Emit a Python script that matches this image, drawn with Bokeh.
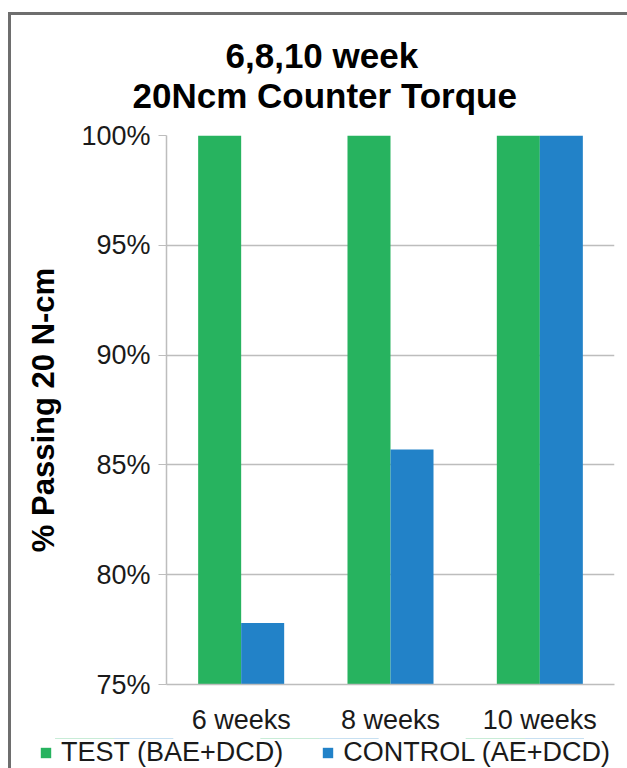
from bokeh.plotting import figure
from bokeh.layouts import column
from bokeh.models import (Title, Legend, LegendItem, FactorRange, Range1d,
                          PrintfTickFormatter, FixedTicker, ColumnDataSource)
from bokeh.transform import dodge
from bokeh.embed import file_html
from bokeh.resources import INLINE

# Data
weeks = ["6 weeks", "8 weeks", "10 weeks"]
test_pass = [100.0, 100.0, 100.0]        # TEST (BAE+DCD), % passing
control_pass = [77.8, 85.7, 100.0]       # CONTROL (AE+DCD), % passing
y_ticks = [75, 80, 85, 90, 95, 100]
series_names = ["TEST (BAE+DCD)", "CONTROL (AE+DCD)"]

GREEN = "#27b35f"
BLUE = "#2282c8"
GRID = "#bdbdbd"
FONT = "Liberation Sans"
TEXT = "#1a1a1a"

y_min, y_max = y_ticks[0], y_ticks[-1]
bar_w = 0.288

src = ColumnDataSource(dict(week=weeks, test=test_pass, control=control_pass))


def add_bars(fig):
    """Grouped bars: TEST on the left of each category, CONTROL on the right."""
    r1 = fig.vbar(x=dodge("week", -bar_w / 2, range=fig.x_range), top="test",
                  bottom=y_min, width=bar_w, source=src,
                  fill_color=GREEN, line_color=None)
    r2 = fig.vbar(x=dodge("week", bar_w / 2, range=fig.x_range), top="control",
                  bottom=y_min, width=bar_w, source=src,
                  fill_color=BLUE, line_color=None)
    return r1, r2


p = figure(
    x_range=FactorRange(*weeks, range_padding=0.0),
    y_range=Range1d(y_min, y_max),
    width=616, height=723,
    output_backend="svg", toolbar_location=None,
    min_border_left=155, min_border_right=13,
    min_border_top=120, min_border_bottom=54,
    outline_line_color=None,
)
p.frame_align = False
add_bars(p)

# Two-line title over the whole chart
p.title.text = "6,8,10 week"
p.title.align = "left"
p.title.offset = 59
p.title.vertical_align = "middle"
p.title.text_font = FONT
p.title.text_font_size = "35px"
p.title.text_font_style = "bold"
p.title.text_color = "#000000"
p.title.standoff = -36
second_line = Title(text="20Ncm Counter Torque", align="left", offset=-34,
                    vertical_align="top",
                    text_font=FONT, text_font_size="35px",
                    text_font_style="bold", text_color="#000000", standoff=37)
p.add_layout(second_line, "above")

# Axes
p.yaxis.ticker = FixedTicker(ticks=y_ticks)
p.yaxis.formatter = PrintfTickFormatter(format="%d%%")
p.yaxis.major_label_text_font = FONT
p.yaxis.major_label_text_font_size = "27px"
p.yaxis.major_label_text_color = TEXT
p.yaxis.major_tick_out = 8
p.yaxis.major_tick_in = 0
p.yaxis.minor_tick_line_color = None
p.yaxis.major_tick_line_color = GRID
p.yaxis.axis_line_color = GRID
p.yaxis.axis_line_width = 1.5
p.yaxis.major_label_standoff = 8
p.yaxis.axis_label = "% Passing 20 N-cm"
p.yaxis.axis_label_text_font = FONT
p.yaxis.axis_label_text_font_size = "31px"
p.yaxis.axis_label_text_font_style = "bold"
p.yaxis.axis_label_text_color = "#000000"
p.yaxis.axis_label_standoff = 17

p.xaxis.major_label_text_font = FONT
p.xaxis.major_label_text_font_size = "27px"
p.xaxis.major_label_text_color = TEXT
p.xaxis.major_tick_line_color = None
p.xaxis.minor_tick_line_color = None
p.xaxis.axis_line_color = GRID
p.xaxis.axis_line_width = 1.5
p.xaxis.major_label_standoff = 14

p.xgrid.grid_line_color = None
p.ygrid.grid_line_color = GRID
p.ygrid.grid_line_width = 1.5

# Legend strip below the chart (its bars sit outside the strip's view)
leg = figure(
    width=616, height=30,
    x_range=FactorRange(*weeks, range_padding=0.0), y_range=Range1d(0, 1),
    output_backend="svg", toolbar_location=None,
    x_axis_location=None, y_axis_location=None,
    min_border=0, outline_line_color=None,
)
leg.frame_align = False
leg.grid.visible = False
k_test, k_ctrl = add_bars(leg)
legend = Legend(
    items=[LegendItem(label=series_names[0], renderers=[k_test]),
           LegendItem(label=series_names[1], renderers=[k_ctrl])],
    orientation="horizontal", location=(28, 0),
    padding=0, margin=0, spacing=38,
    glyph_width=13, glyph_height=13, label_standoff=9,
    label_text_font=FONT, label_text_font_size="27px",
    label_text_color=TEXT, label_height=26,
    border_line_color=None, background_fill_alpha=0,
    item_background_fill_alpha=0,
)
leg.add_layout(legend, "center")

page = column(p, leg, spacing=0)
page.styles = {
    "margin-left": "8px", "margin-top": "12px",
    "border-top": "3px solid #6e6e6e", "border-left": "3px solid #6e6e6e",
}

open("out.html", "w").write(file_html(page, INLINE))
